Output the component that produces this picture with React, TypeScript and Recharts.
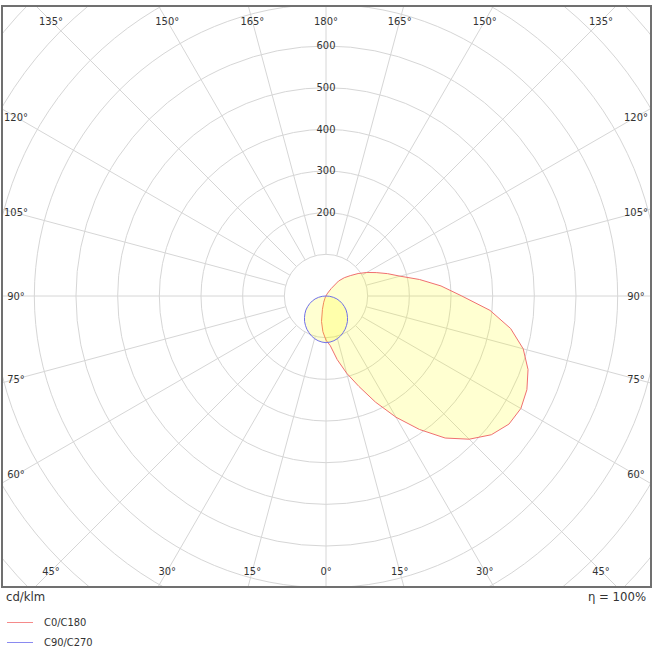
import { PolarAngleAxis, PolarGrid, PolarRadiusAxis, Radar, RadarChart } from "recharts";

// photometric angle gamma, 0 = nadir, 180 = zenith
const gammaDeg = [
  0, 5, 10, 15, 20, 25, 30, 35, 40, 45, 50, 55, 60, 65, 70, 75, 80, 85, 90,
  95, 100, 105, 110, 115, 120, 125, 130, 135, 140, 145, 150, 155, 160, 165, 170, 175, 180,
];

// cd/klm per gamma
const c0Values = [
  106, 120, 155, 192, 231, 281, 336, 391, 445, 486, 518, 536, 540, 532, 516, 490, 450, 395, 326,
  277, 228, 184, 157, 133, 113, 94, 76, 62, 47, 22, 8, 3, 0, 0, 0, 0, 0,
];
const c180Values = [
  106, 86, 62, 33, 16, 6, 2, 0, 0, 0, 0, 0, 0, 0, 0, 0, 0, 0, 0,
  0, 0, 0, 0, 0, 0, 0, 0, 0, 0, 0, 0, 0, 0, 0, 0, 0, 0,
];
const c90Values = [
  112, 111, 109, 106, 102, 97, 92, 86, 80, 73, 66, 59, 51, 43, 35, 27, 18, 9, 0,
  0, 0, 0, 0, 0, 0, 0, 0, 0, 0, 0, 0, 0, 0, 0, 0, 0, 0,
];
const c270Values = [
  112, 111, 109, 106, 102, 97, 92, 86, 80, 73, 66, 59, 51, 43, 35, 27, 18, 9, 0,
  0, 0, 0, 0, 0, 0, 0, 0, 0, 0, 0, 0, 0, 0, 0, 0, 0, 0,
];

const radiusTicks = [100, 200, 300, 400, 500, 600, 700, 800, 900, 1000];
const radiusLabels = [200, 300, 400, 500, 600];
const gridAngles = [0, 15, 30, 45, 60, 75, 90, 105, 120, 135, 150, 165, 180, 195, 210, 225, 240, 255, 270, 285, 300, 315, 330, 345];

const legendItems = [
  { name: "C0/C180", color: "#f58a8a" },
  { name: "C90/C270", color: "#8a8af0" },
];

const W = 651;
const H = 583;
const CX = 325;
const CY = 291;
const FONT = "'DejaVu Sans Condensed', 'DejaVu Sans', sans-serif";

// clockwise from nadir: C180 / C270 half on the left, C0 / C90 half on the right
const rows = [
  ...gammaDeg.map((g, i) => ({ key: `L${g}`, gamma: g, c0: c180Values[i], c90: c270Values[i] })),
  ...gammaDeg
    .slice(1, -1)
    .reverse()
    .map((g) => {
      const i = gammaDeg.indexOf(g);
      return { key: `R${g}`, gamma: g, c0: c0Values[i], c90: c90Values[i] };
    }),
];

function AngleTick(props: any) {
  const row = rows.find((r) => r.key === props.payload?.value);
  if (!row || row.gamma % 15 !== 0) return <g />;
  const a = (props.payload.coordinate * Math.PI) / 180;
  const dx = Math.cos(a);
  const dy = -Math.sin(a);
  const t = Math.min(
    Math.abs(dx) > 1e-6 ? 310 / Math.abs(dx) : Infinity,
    Math.abs(dy) > 1e-6 ? 275 / Math.abs(dy) : Infinity
  );
  return (
    <text
      x={CX + dx * t}
      y={CY + dy * t}
      textAnchor="middle"
      dominantBaseline="central"
      fontSize={11}
      fontFamily={FONT}
      fill="#333"
    >
      {row.gamma}°
    </text>
  );
}

function RadiusTick(props: any) {
  const v = props.payload?.value;
  if (!radiusLabels.includes(v)) return <g />;
  return (
    <text
      x={props.x}
      y={props.y}
      textAnchor="middle"
      dominantBaseline="central"
      fontSize={11}
      fontFamily={FONT}
      fill="#333"
    >
      {v}
    </text>
  );
}

export default function App() {
  return (
    <div style={{ position: "absolute", left: 0, top: 0, width: 655, height: 655, background: "#fff", fontFamily: FONT }}>
      <div style={{ position: "absolute", left: 1, top: 5, width: W, height: H }}>
        <RadarChart
          width={W}
          height={H}
          data={rows}
          cx={CX}
          cy={CY}
          innerRadius={41.667}
          outerRadius={416.67}
          startAngle={-90}
          endAngle={-450}
          margin={{ top: 0, right: 0, bottom: 0, left: 0 }}
        >
          <PolarGrid gridType="circle" polarAngles={gridAngles} stroke="#d6d6d6" />
          <PolarAngleAxis dataKey="key" axisLine={false} tickLine={false} tick={AngleTick} />
          <PolarRadiusAxis
            angle={90}
            domain={[100, 1000]}
            ticks={radiusTicks}
            allowDataOverflow
            axisLine={false}
            tickLine={false}
            tick={RadiusTick}
          />
          <Radar
            dataKey="c0"
            stroke="#f07070"
            strokeWidth={1}
            fill="#ffff00"
            fillOpacity={0.18}
            dot={false}
            isAnimationActive={false}
          />
          <Radar
            dataKey="c90"
            stroke="#7070e8"
            strokeWidth={1}
            fill="#ffff00"
            fillOpacity={0.18}
            dot={false}
            isAnimationActive={false}
          />
        </RadarChart>
      </div>
      <div
        style={{
          position: "absolute",
          left: 1,
          top: 5,
          width: W,
          height: H,
          boxSizing: "border-box",
          border: "2px solid #707070",
        }}
      />
      <div style={{ position: "absolute", left: 6, top: 589, fontSize: 13, color: "#333" }}>cd/klm</div>
      <div style={{ position: "absolute", right: 9, top: 589, fontSize: 13, color: "#333" }}>η = 100%</div>
      {legendItems.map((item, i) => (
        <div
          key={item.name}
          style={{ position: "absolute", left: 7, top: 616 + i * 20, display: "flex", alignItems: "center", fontSize: 11, color: "#333" }}
        >
          <span style={{ display: "inline-block", width: 26, height: 1, background: item.color, marginRight: 11 }} />
          {item.name}
        </div>
      ))}
    </div>
  );
}
